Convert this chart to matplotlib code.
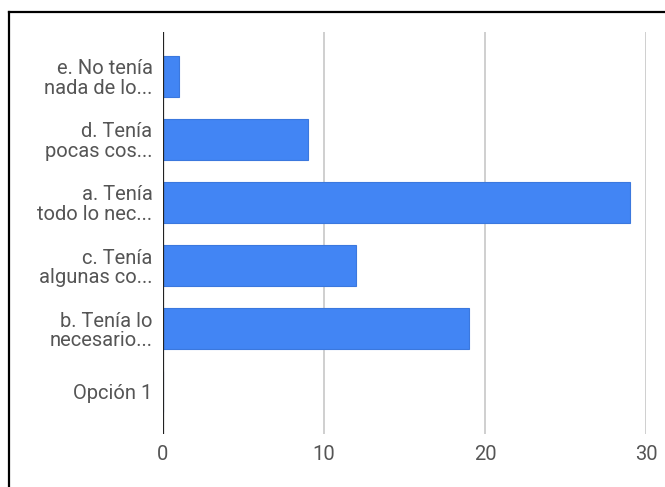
import matplotlib.pyplot as plt
from matplotlib.lines import Line2D

plt.rcParams['font.family'] = ['Roboto', 'DejaVu Sans']

categories = [
    "e. No tenía\nnada de lo...",
    "d. Tenía\npocas cos...",
    "a. Tenía\ntodo lo nec...",
    "c. Tenía\nalgunas co...",
    "b. Tenía lo\nnecesario...",
    "Opción 1",
]
values = [1, 9, 29, 12, 19, 0]
x_ticks = [0, 10, 20, 30]

W, H = 665, 487
fig = plt.figure(figsize=(W / 100, H / 100), dpi=100)
ax = fig.add_axes([163 / W, 1 - 434 / H, (646 - 163) / W, (434 - 32) / H])

pos = list(range(len(categories)))
ax.barh(pos, values, height=0.65, color="#4285F4", edgecolor="#3b78de", linewidth=0.8, zorder=3)

ax.set_xlim(0, 30)
ax.set_ylim(5.67, -0.7)
ax.set_xticks(x_ticks)
ax.set_xticklabels([str(t) for t in x_ticks])
ax.set_yticks(pos)
ax.set_yticklabels(categories, linespacing=1.05)
ax.grid(axis="x", color="#cccccc", linewidth=1.3, zorder=0)
ax.axvline(0, color="#222222", linewidth=1.6, zorder=4)

for s in ax.spines.values():
    s.set_visible(False)
ax.tick_params(axis="both", length=0, colors="#555555", labelsize=14.5)
ax.tick_params(axis="y", pad=7.5)
ax.tick_params(axis="x", pad=8)

# outer frame (only top and left visible in the crop)
fig.add_artist(Line2D([9 / W, 9 / W], [0, 1 - 12 / H], color="black", linewidth=1.6))
fig.add_artist(Line2D([9 / W, 1], [1 - 12 / H, 1 - 12 / H], color="black", linewidth=1.6))

fig.savefig("out.png", dpi=100)
